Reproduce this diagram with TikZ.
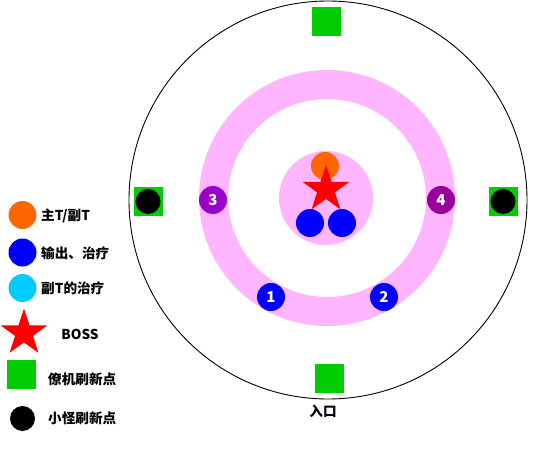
\documentclass[tikz,border=0pt]{standalone}
\usepackage{fontspec}
\usepackage{tikz}
\usetikzlibrary{shapes.geometric}
\newfontfamily\cjk{Noto Sans CJK SC}
\definecolor{tankorange}{HTML}{FF6600}
\definecolor{dpsblue}{HTML}{0000FF}
\definecolor{healcyan}{HTML}{00CCFF}
\definecolor{spawngreen}{HTML}{00CC00}
\definecolor{ringpink}{HTML}{FFB5FF}
\definecolor{violetA}{HTML}{9900CC}
\definecolor{violetB}{HTML}{990099}

\begin{document}
\begin{tikzpicture}[x=1pt,y=-1pt]
  \tikzstyle{dot} = [circle, inner sep=0pt, minimum size=28pt]
  \tikzstyle{spawn} = [rectangle, fill=spawngreen, inner sep=0pt, minimum size=29pt]
  \tikzstyle{mob} = [circle, fill=black, inner sep=0pt, minimum size=25pt]
  \tikzstyle{boss} = [star, star points=5, star point ratio=2.6, fill=red, inner sep=0pt, minimum size=49pt]
  \tikzstyle{num} = [dot, text=white, font=\cjk\bfseries\fontsize{15}{15}\selectfont]
  \tikzstyle{legend} = [anchor=west, inner sep=0pt, font=\cjk\bfseries\fontsize{13.6}{13.6}\selectfont]

  \useasboundingbox (0,0) rectangle (550,450);

  \draw[line width=0.9pt] (328,200) circle (199);
  \draw[line width=29pt, ringpink] (327,198) circle (113.5);
  \fill[ringpink] (326,198) circle (47);

  \node[dot, fill=tankorange] (tank) at (325,166) {};
  \node[boss] (boss) at (326,189.5) {};
  \node[dot, fill=dpsblue] (dpsL) at (310,223) {};
  \node[dot, fill=dpsblue] (dpsR) at (342,223) {};

  \node[num, fill=dpsblue] (p1) at (271,297) {1};
  \node[num, fill=dpsblue] (p2) at (384,297) {2};
  \node[num, fill=violetA] (p3) at (213,200) {3};
  \node[num, fill=violetB] (p4) at (441,200) {4};

  \node[spawn] (gTop) at (326.5,21.5) {};
  \node[spawn] (gBot) at (329.5,378.5) {};
  \node[spawn] (gLeft) at (148.5,201.5) {};
  \node[spawn] (gRight) at (503.5,201.5) {};
  \node[mob] (mLeft) at (148,201.5) {};
  \node[mob] (mRight) at (503,201.5) {};
  \node[font=\cjk\bfseries\fontsize{13.6}{13.6}\selectfont, inner sep=0pt] (entry) at (323,411) {入口};

  \node[dot, fill=tankorange] (kTank) at (22.5,215) {};
  \node[dot, fill=dpsblue] (kDps) at (22.5,252.5) {};
  \node[dot, fill=healcyan] (kHeal) at (22.5,288) {};
  \node[boss] (kBoss) at (24,333) {};
  \node[spawn] (kSpawn) at (21.5,374.5) {};
  \node[mob] (kMob) at (22.5,418.5) {};

  \node[legend] (tTank) at (41,216) {主T/副T};
  \node[legend] (tDps) at (41,253) {输出、治疗};
  \node[legend] (tHeal) at (41,288) {副T的治疗};
  \node[legend, anchor=center] (tBoss) at (80,334) {BOSS};
  \node[legend] (tSpawn) at (48,379) {僚机刷新点};
  \node[legend] (tMob) at (48,418) {小怪刷新点};
\end{tikzpicture}
\end{document}
